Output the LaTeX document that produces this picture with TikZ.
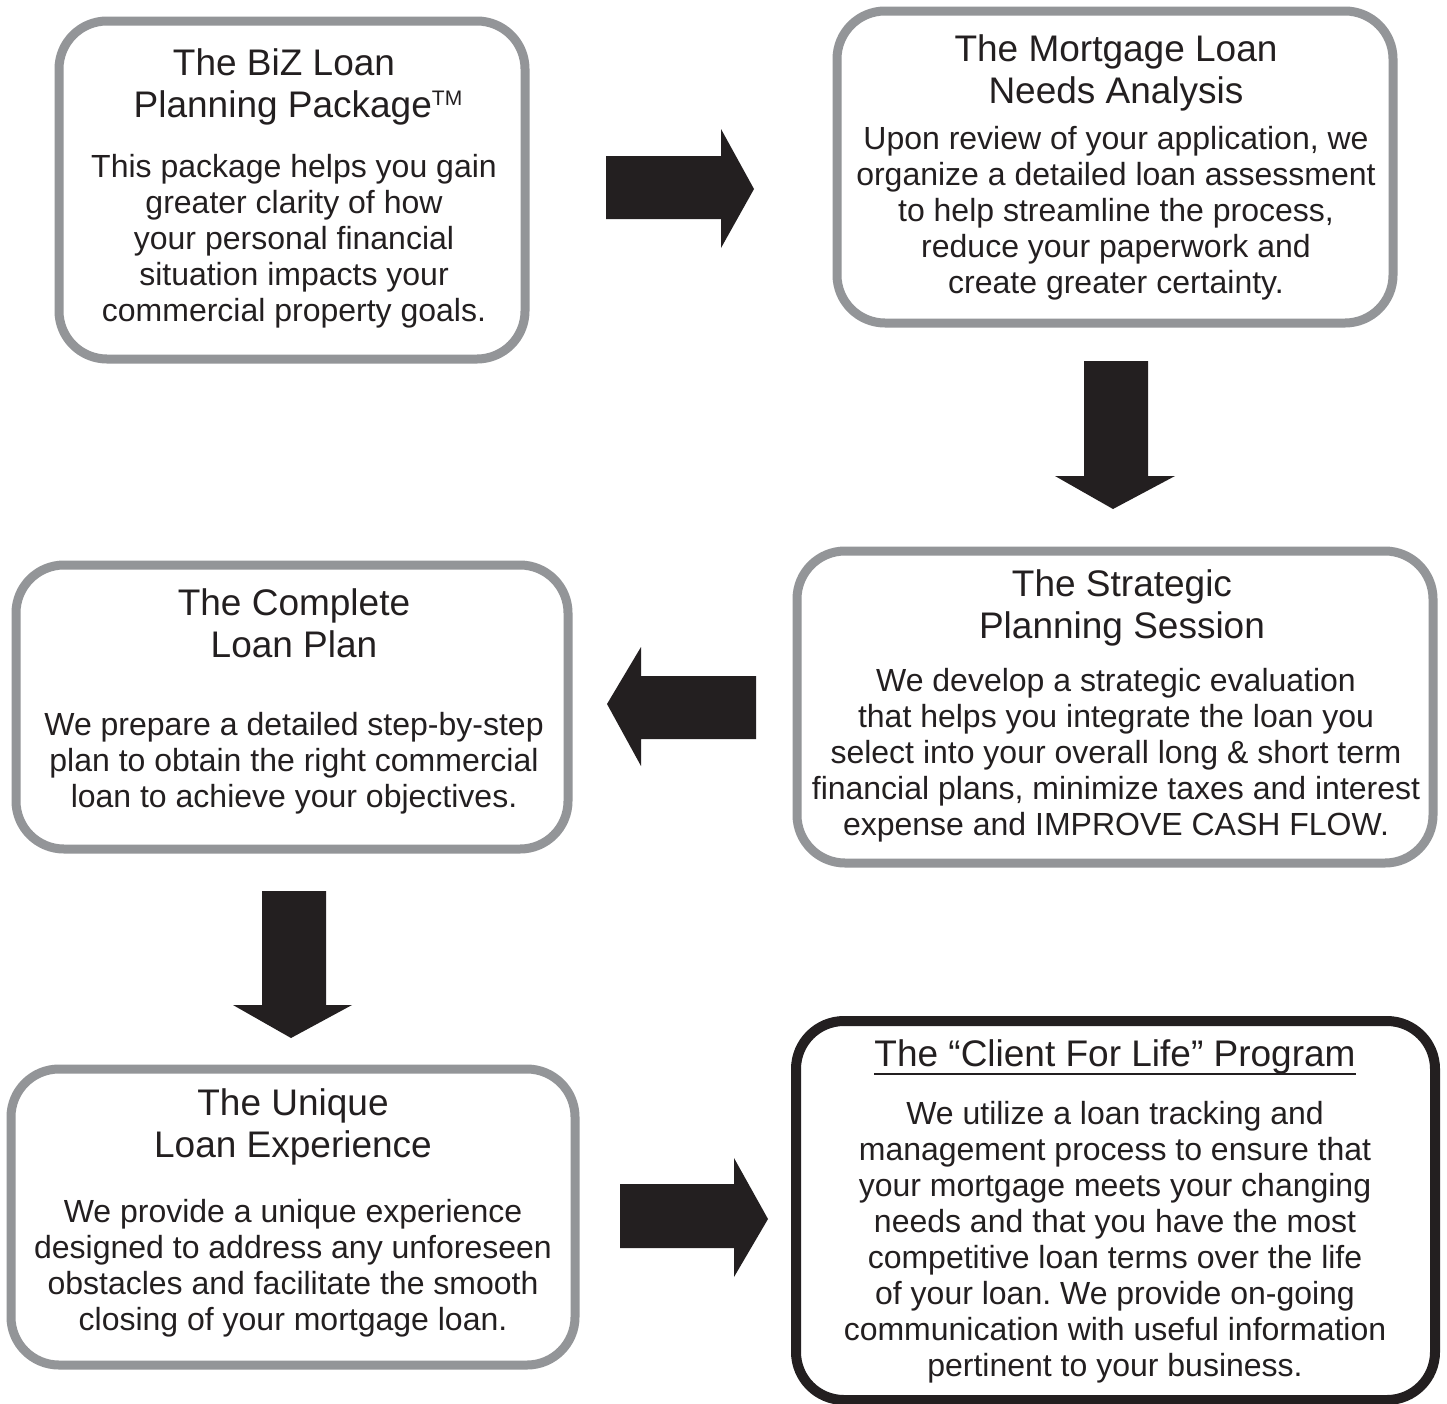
\documentclass[tikz,border=0pt]{standalone}
\usepackage{fontspec}
\setmainfont{Liberation Sans}
\frenchspacing
\definecolor{boxgray}{HTML}{939598}
\definecolor{ink}{HTML}{231F20}
\tikzset{
  graybox/.style={draw=boxgray, line width=9pt, rounded corners=48pt, fill=white, inner sep=0pt},
  blackbox/.style={draw=ink, line width=10pt, rounded corners=48pt, fill=white, inner sep=0pt},
  ttl/.style={font=\fontsize{37}{42}\selectfont\frenchspacing, align=center, inner sep=0pt, anchor=north, text=ink},
  bodytext/.style={font=\fontsize{32}{36}\selectfont\frenchspacing, align=center, inner sep=0pt, anchor=north, text=ink},
  blockarrow/.style={fill=ink, draw=none}
}
\begin{document}
\begin{tikzpicture}[x=1pt,y=-1pt]
\fill[white] (0,0) rectangle (1447,1403);
\useasboundingbox (0,0) rectangle (1447,1403);

% boxes
\node[graybox, minimum width=466pt, minimum height=338pt] (b1) at (292,190) {};
\node[graybox, minimum width=556pt, minimum height=312pt] (b2) at (1115,167) {};
\node[graybox, minimum width=636pt, minimum height=312pt] (b3) at (1115,707) {};
\node[graybox, minimum width=552pt, minimum height=284pt] (b4) at (292,707) {};
\node[graybox, minimum width=564pt, minimum height=296pt] (b5) at (293,1217) {};
\node[blackbox, minimum width=639pt, minimum height=379pt] (b6) at (1115.5,1210.5) {};

% texts
\node[ttl] (t1) at (292,48) {The BiZ Loan\hspace*{16pt}\\\hspace*{12pt}Planning Package{\fontsize{21}{21}\selectfont\raisebox{12pt}{TM}}};
\node[bodytext] (d1) at (294,154) {This package helps you gain\\greater clarity of how\\your personal financial\\situation impacts your\\commercial property goals.};

\node[ttl] (t2) at (1116,34) {The Mortgage Loan\\Needs Analysis};
\node[bodytext] (d2) at (1116,126) {Upon review of your application, we\\organize a detailed loan assessment\\to help streamline the process,\\reduce your paperwork and\\create greater certainty.};

\node[ttl] (t3) at (1122,569) {The Strategic\\Planning Session};
\node[bodytext] (d3) at (1116,668) {We develop a strategic evaluation\\that helps you integrate the loan you\\select into your overall long \& short term\\financial plans, minimize taxes and interest\\expense and IMPROVE CASH FLOW.};

\node[ttl] (t4) at (294,588) {The Complete\\Loan Plan};
\node[bodytext] (d4) at (294,712) {We prepare a detailed step-by-step\\plan to obtain the right commercial\\loan to achieve your objectives.};

\node[ttl] (t5) at (293,1088) {The Unique\\Loan Experience};
\node[bodytext] (d5) at (293,1199) {We provide a unique experience\\designed to address any unforeseen\\obstacles and facilitate the smooth\\closing of your mortgage loan.};

\node[ttl] (t6) at (1115,1039) {The “Client For Life” Program};
\draw[ink, line width=2.5pt] (t6.south west) -- (t6.south east);
\node[bodytext] (d6) at (1115,1101) {We utilize a loan tracking and\\management process to ensure that\\your mortgage meets your changing\\needs and that you have the most\\competitive loan terms over the life\\of your loan. We provide on-going\\communication with useful information\\pertinent to your business.};

% block arrows
\fill[blockarrow] (606,156) -- (721,156) -- (721,129) -- (754,189) -- (721,248) -- (721,219) -- (606,219) -- cycle;
\fill[blockarrow] (1084,361) -- (1148,361) -- (1148,476) -- (1175,476) -- (1113,509) -- (1055,476) -- (1084,476) -- cycle;
\fill[blockarrow] (756,676) -- (641,676) -- (641,647) -- (607,704) -- (641,766) -- (641,739) -- (756,739) -- cycle;
\fill[blockarrow] (262,891) -- (326,891) -- (326,1005) -- (352,1005) -- (291,1038) -- (233,1005) -- (262,1005) -- cycle;
\fill[blockarrow] (620,1184) -- (734,1184) -- (734,1158) -- (768,1219) -- (734,1277) -- (734,1248) -- (620,1248) -- cycle;
\end{tikzpicture}
\end{document}
